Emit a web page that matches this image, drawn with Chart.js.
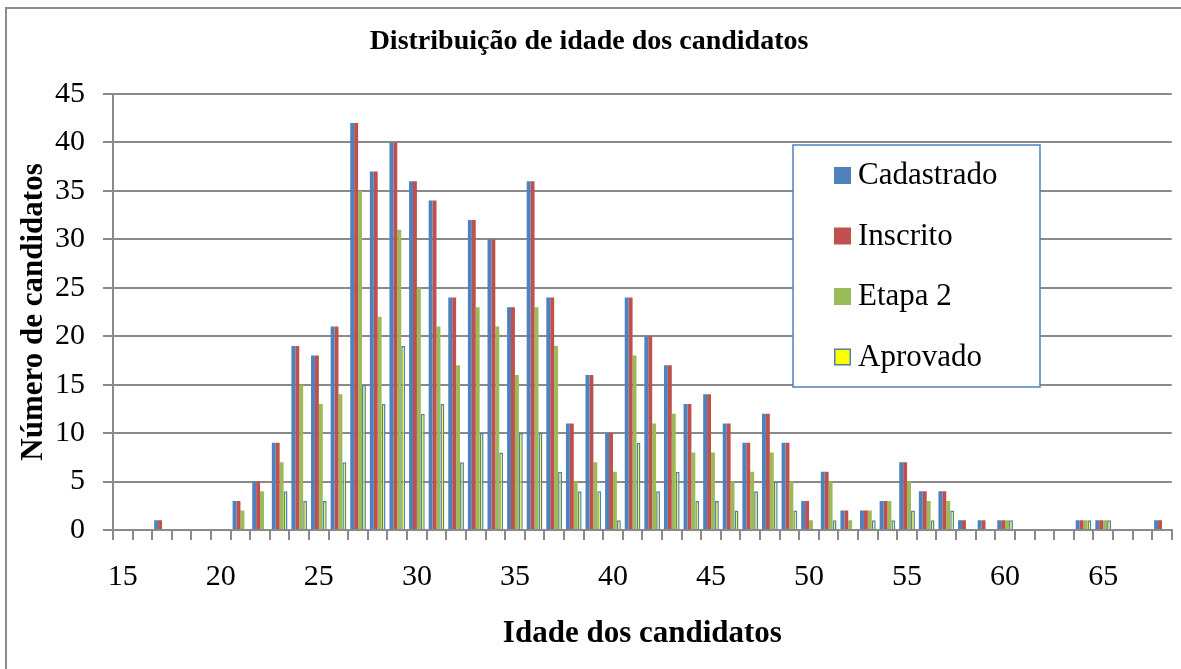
<!DOCTYPE html>
<html>
<head>
<meta charset="utf-8">
<title>Distribuição de idade dos candidatos</title>
<script src="https://cdn.jsdelivr.net/npm/chart.js@4/dist/chart.umd.min.js"></script>
<style>
  html, body { margin: 0; padding: 0; background: #fff; }
  #caixa { position: relative; width: 1181px; height: 669px; overflow: hidden; }
  #moldura { position: absolute; left: 5px; top: 7px; width: 1200px; height: 700px;
             border: 2px solid #8c8c8c; pointer-events: none; }
</style>
</head>
<body>
<div id="caixa">
  <canvas id="grafico"></canvas>
  <div id="moldura"></div>
</div>
<script>
// ======================
// DADOS
// ======================

const idades = [
15,16,17,18,19,20,21,22,23,24,
25,26,27,28,29,30,31,32,33,34,
35,36,37,38,39,40,41,42,43,44,
45,46,47,48,49,50,51,52,53,54,
55,56,57,58,59,60,61,62,63,64,
65,66,67,68
];

const cadastrado = [
0,0,1,0,0,0,3,5,9,19,
18,21,42,37,40,36,34,24,32,30,
23,36,24,11,16,10,24,20,17,13,
14,11,9,12,9,3,6,2,2,3,
7,4,4,1,1,1,0,0,0,1,
1,0,0,1
];

const inscrito = [
0,0,1,0,0,0,3,5,9,19,
18,21,42,37,40,36,34,24,32,30,
23,36,24,11,16,10,24,20,17,13,
14,11,9,12,9,3,6,2,2,3,
7,4,4,1,1,1,0,0,0,1,
1,0,0,1
];

const etapa2 = [
0,0,0,0,0,0,2,4,7,15,
13,14,35,22,31,25,21,17,23,21,
16,23,19,5,7,6,18,11,12,8,
8,5,6,8,5,1,5,1,2,3,
5,3,3,0,0,1,0,0,0,1,
1,0,0,0
];

const aprovado = [
0,0,0,0,0,0,0,0,4,3,
3,7,15,13,19,12,13,7,10,8,
10,10,6,4,4,1,9,4,6,3,
3,2,4,5,2,0,1,0,1,1,
2,1,2,0,0,1,0,0,0,1,
1,0,0,0
];

const ticksY = [0,5,10,15,20,25,30,35,40,45];

const fonteSerif = "'Liberation Serif', 'Times New Roman', serif";

// ======================
// LEGENDA DENTRO DO GRAFICO
// ======================

const legendaCaixa = {
    id: "legendaCaixa",
    afterDraw(chart, args, opts) {
        const ctx = chart.ctx;
        ctx.save();
        ctx.fillStyle = "#ffffff";
        ctx.fillRect(opts.x, opts.y, opts.w, opts.h);
        ctx.strokeStyle = "#4F81BD";
        ctx.lineWidth = 1.5;
        ctx.strokeRect(opts.x, opts.y, opts.w, opts.h);

        ctx.font = "31px " + fonteSerif;
        ctx.textBaseline = "middle";
        ctx.textAlign = "left";

        chart.data.datasets.forEach((ds, i) => {
            const cy = opts.y + opts.primeiro + i * opts.passo;
            const qx = opts.x + 41;
            ctx.fillStyle = ds.backgroundColor;
            ctx.fillRect(qx, cy - 8, 17, 17);
            if (ds.borderWidth) {
                ctx.strokeStyle = ds.borderColor;
                ctx.lineWidth = 1.5;
                ctx.strokeRect(qx + 0.75, cy - 7.25, 15.5, 15.5);
            }
            ctx.fillStyle = "#000";
            ctx.fillText(ds.label, qx + 24, cy + 1);
        });
        ctx.restore();
    }
};

// ======================
// GRAFICO
// ======================

const ctx = document.getElementById("grafico");

new Chart(ctx, {

    type: "bar",

    data: {
        labels: idades,
        datasets: [
            { label: "Cadastrado", data: cadastrado, backgroundColor: "#4F81BD" },
            { label: "Inscrito",   data: inscrito,   backgroundColor: "#C0504D" },
            { label: "Etapa 2",    data: etapa2,     backgroundColor: "#9BBB59" },
            { label: "Aprovado",   data: aprovado,   backgroundColor: "#FFFF00",
              borderColor: "#4F81BD", borderWidth: 1.5 }
        ]
    },

    options: {
        responsive: true,
        maintainAspectRatio: false,
        animation: false,
        datasets: {
            bar: {
                categoryPercentage: 0.8,
                barPercentage: 1.0,
                inflateAmount: 0
            }
        },
        layout: { padding: { left: 0, right: 3, top: 0, bottom: 0 } },
        plugins: {
            legend: { display: false },
            tooltip: { enabled: false },
            title: {
                display: true,
                text: "Distribuição de idade dos candidatos",
                color: "#000",
                font: { family: fonteSerif, size: 28, weight: "bold" },
                padding: { top: 25, bottom: 35.4 }
            },
            legendaCaixa: { x: 793, y: 145, w: 247, h: 242, primeiro: 30, passo: 60.5 }
        },
        scales: {
            x: {
                offset: true,
                grid: {
                    offset: true,
                    drawOnChartArea: false,
                    drawTicks: true,
                    tickLength: 10,
                    color: "#8a8a8a",
                    lineWidth: 2
                },
                border: { color: "#8a8a8a", width: 2 },
                ticks: {
                    autoSkip: false,
                    maxRotation: 0,
                    minRotation: 0,
                    padding: 19,
                    color: "#000",
                    font: { family: fonteSerif, size: 30 },
                    callback: function (valor, i) {
                        const idade = idades[i];
                        return idade % 5 === 0 ? String(idade) : "";
                    }
                },
                title: {
                    display: true,
                    text: "Idade dos candidatos",
                    color: "#000",
                    font: { family: fonteSerif, size: 31, weight: "bold" },
                    padding: { top: 0, bottom: 16 }
                },
                afterFit: function (escala) { escala.height = 139; }
            },
            y: {
                min: ticksY[0],
                max: ticksY[ticksY.length - 1],
                afterBuildTicks: function (escala) {
                    escala.ticks = ticksY.map(v => ({ value: v }));
                },
                grid: {
                    color: "#8a8a8a",
                    lineWidth: 2,
                    drawTicks: true,
                    tickLength: 10
                },
                border: { color: "#8a8a8a", width: 2 },
                ticks: {
                    padding: 18,
                    color: "#000",
                    font: { family: fonteSerif, size: 30 }
                },
                title: {
                    display: true,
                    text: "Número de candidatos",
                    color: "#000",
                    font: { family: fonteSerif, size: 31, weight: "bold" },
                    padding: { top: 15, bottom: 0 }
                },
                afterFit: function (escala) { escala.width = 113; }
            }
        }
    },

    plugins: [legendaCaixa]

});
</script>
</body>
</html>
